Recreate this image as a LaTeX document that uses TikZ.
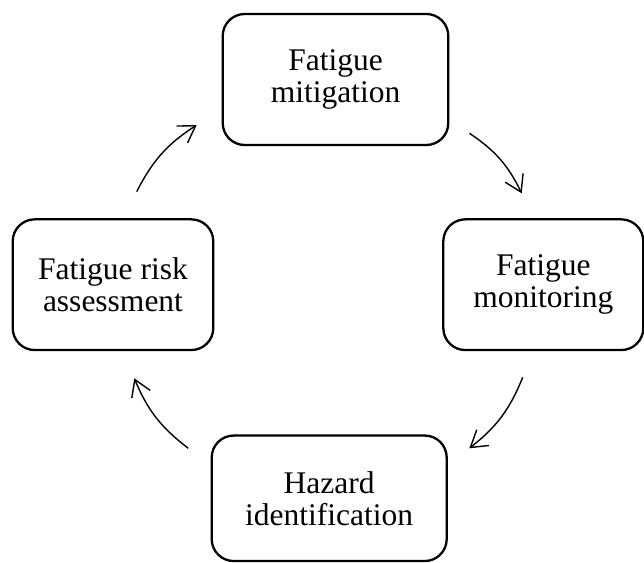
\documentclass[tikz,border=0pt]{standalone}
\usepackage{fontspec}
\setmainfont{Liberation Serif}
\usetikzlibrary{arrows.meta}
\tikzset{
  stagebox/.style={draw=black, line width=2.3pt, rounded corners=22pt, align=center,
    inner sep=0pt, font=\fontsize{31.5}{32}\selectfont},
  cyclearrow/.style={line width=1.4pt, -{Straight Barb[length=16pt,width=20pt,line width=1.4pt]}, bend left=15}
}
\begin{document}
\begin{tikzpicture}[x=1pt,y=1pt]
\useasboundingbox (0,0) rectangle (644,562);
\node[stagebox, minimum width=225.6pt, minimum height=131pt] (mit) at (335.5,482.5) {Fatigue\\mitigation};
\node[stagebox, minimum width=200.6pt, minimum height=130.7pt] (risk) at (113,277.3) {Fatigue risk\\assessment};
\node[stagebox, minimum width=200pt, minimum height=130.7pt] (mon) at (543.3,277.3) {Fatigue\\monitoring};
\node[stagebox, minimum width=235pt, minimum height=125.5pt] (haz) at (329.2,63.7) {Hazard\\identification};
\coordinate (a1s) at (136.7,370.3);
\coordinate (a1e) at (196.7,437);
\coordinate (a2s) at (469.5,428.7);
\coordinate (a2e) at (521.7,368.7);
\coordinate (a3s) at (522.7,184.7);
\coordinate (a3e) at (469.3,113.7);
\coordinate (a4s) at (188.3,113.7);
\coordinate (a4e) at (134.3,183.7);
\draw[cyclearrow] (a1s) to (a1e);
\draw[cyclearrow] (a2s) to (a2e);
\draw[cyclearrow] (a3s) to (a3e);
\draw[cyclearrow] (a4s) to (a4e);
\end{tikzpicture}
\end{document}
